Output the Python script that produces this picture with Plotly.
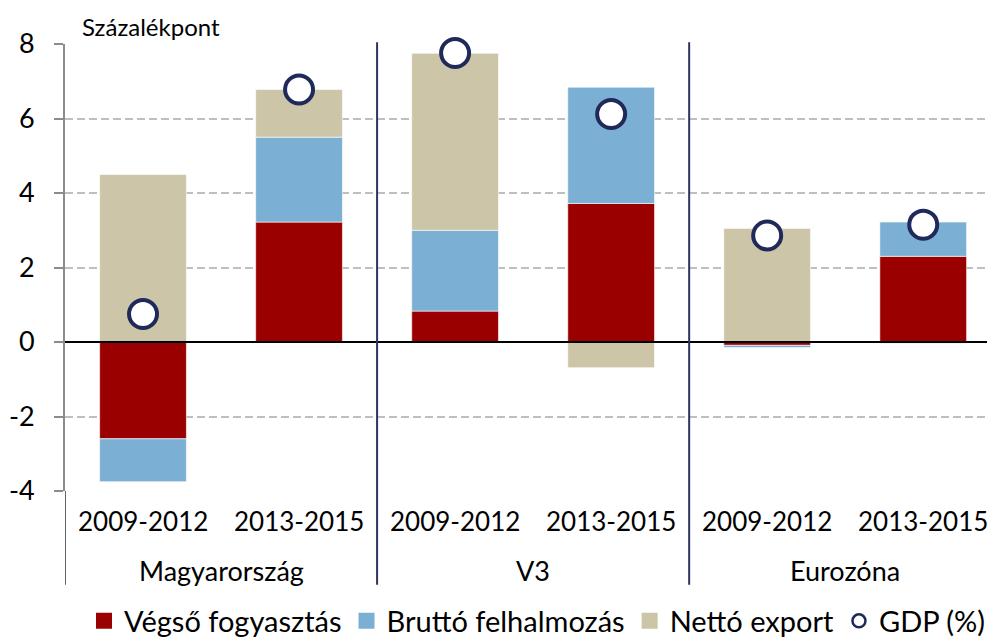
import plotly.graph_objects as go

# ---- data ----
groups = ["Magyarország", "V3", "Eurozóna"]
periods = ["2009-2012", "2013-2015"]
vegso_fogyasztas = [-2.60, 3.22, 0.83, 3.72, -0.09, 2.30]
brutto_felhalmozas = [-1.15, 2.28, 2.17, 3.12, -0.06, 0.92]
netto_export = [4.50, 1.28, 4.75, -0.69, 3.05, -0.04]
gdp = [0.75, 6.78, 7.76, 6.12, 2.86, 3.15]
y_ticks = [-4, -2, 0, 2, 4, 6, 8]

names = ["Végső fogyasztás", "Bruttó felhalmozás", "Nettó export"]
colors = ["#9B0000", "#7BAFD4", "#CCC5A8"]
series = [vegso_fogyasztas, brutto_felhalmozas, netto_export]

x_pos = list(range(len(groups) * len(periods)))
FONT = "Lato, Carlito, Calibri, sans-serif"

# page body has an 8px margin: figure is sized to fill the rest of the window
W, H = 987, 629

fig = go.Figure()
for name, col, vals in zip(names, colors, series):
    fig.add_trace(go.Bar(
        x=x_pos, y=vals, name=name, width=0.556,
        marker=dict(color=col, line=dict(color="rgba(255,255,255,0.6)", width=1)),
        showlegend=False,
    ))

fig.add_trace(go.Scatter(
    x=x_pos, y=gdp, mode="markers", name="GDP (%)", showlegend=False, cliponaxis=False,
    marker=dict(size=28, color="white", line=dict(color="#1F2A5A", width=4)),
))

# legend proxies
for name, col in zip(names, colors):
    fig.add_trace(go.Scatter(
        x=[None], y=[None], mode="markers", name=name,
        marker=dict(symbol="square", size=18, color=col),
    ))
fig.add_trace(go.Scatter(
    x=[None], y=[None], mode="markers", name="GDP (%)",
    marker=dict(symbol="circle", size=13, color="white", line=dict(color="#1F2A5A", width=2.5)),
))

fig.update_layout(
    width=W, height=H,
    margin=dict(l=57, r=0, t=36, b=146, autoexpand=False),
    plot_bgcolor="white", paper_bgcolor="white",
    barmode="relative",
    font=dict(family=FONT, color="black"),
    legend=dict(
        orientation="h", x=76 / W, xref="container", xanchor="left",
        y=1 - 613 / H, yref="container", yanchor="middle",
        font=dict(size=29, family=FONT, color="black"),
        itemclick=False, traceorder="normal",
    ),
    xaxis=dict(range=[-0.5, 5.46], showticklabels=False, showgrid=False,
               zeroline=False, showline=False, fixedrange=True, automargin=False),
    yaxis=dict(range=[-4, 8], tickvals=y_ticks, ticktext=[str(v) for v in y_ticks],
               tickfont=dict(size=27, family=FONT, color="black"),
               showgrid=True, gridcolor="#BFBFBF", gridwidth=2, griddash="8px,4px",
               zeroline=False, showline=True, linecolor="#8C8C8C", linewidth=2,
               ticks="outside", ticklen=9, tickcolor="#8C8C8C", tickwidth=2,
               ticklabelstandoff=14, automargin=False),
)

# zero line on top
fig.add_shape(type="line", xref="paper", x0=0, x1=1, yref="y", y0=0, y1=0,
              line=dict(color="black", width=2), layer="above")

# group dividers
for xd in [1.5, 3.5]:
    fig.add_shape(type="line", xref="x", x0=xd, x1=xd, yref="paper", y0=-0.21, y1=1.004,
                  line=dict(color="#2E3560", width=2), layer="above")
fig.add_shape(type="line", xref="x", x0=-0.5, x1=-0.5, yref="paper", y0=-0.21, y1=0,
              line=dict(color="#333333", width=1.5), layer="above")

# category labels
for i, xp in enumerate(x_pos):
    fig.add_annotation(x=xp, xref="x", y=-0.066, yref="paper", yanchor="middle",
                       text=periods[i % 2], showarrow=False,
                       font=dict(size=26, family=FONT, color="black"))
for g, name in enumerate(groups):
    fig.add_annotation(x=2 * g + 0.5, xref="x", y=-0.178, yref="paper", yanchor="middle",
                       text=name, showarrow=False,
                       font=dict(size=27, family=FONT, color="black"))

fig.add_annotation(x=-0.404, xref="x", xanchor="left", y=1.04, yref="paper", yanchor="middle",
                   text="Százalékpont", showarrow=False,
                   font=dict(size=24, family=FONT, color="black"))

fig.write_html("out.html")
